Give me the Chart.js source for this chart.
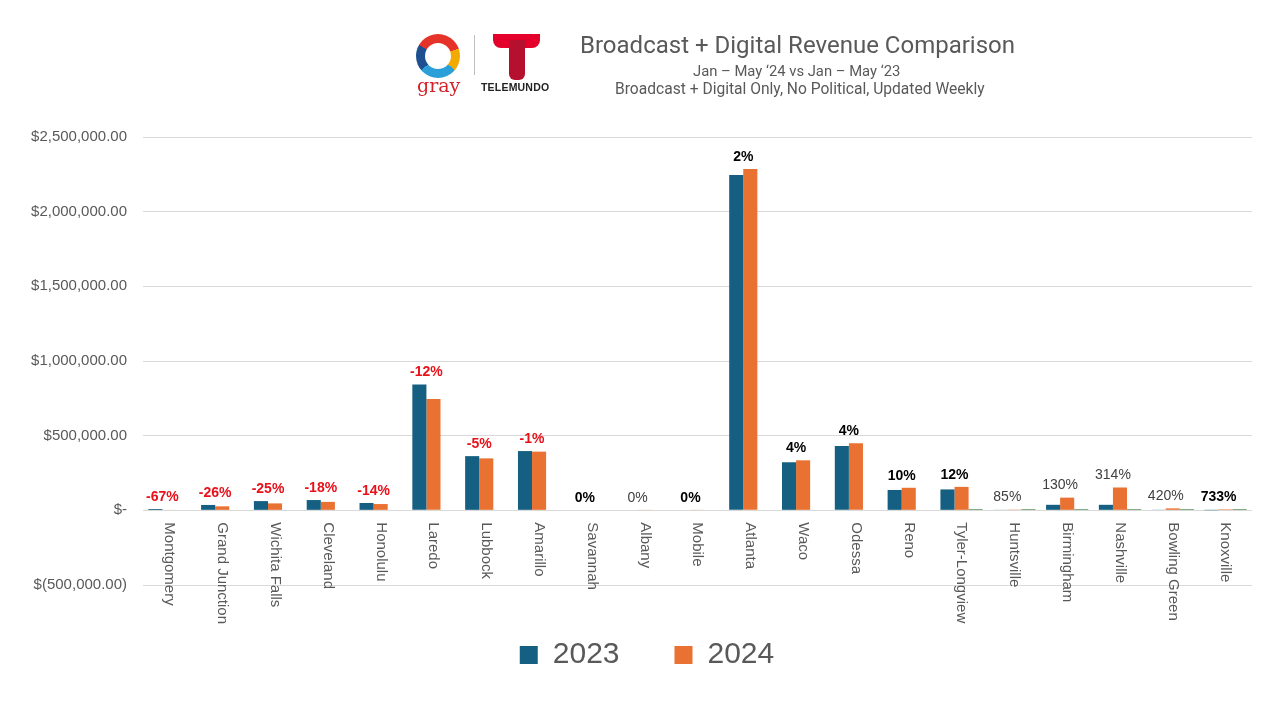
<!DOCTYPE html>
<html>
<head>
<meta charset="utf-8">
<script src="https://cdn.jsdelivr.net/npm/chart.js@4.4.1/dist/chart.umd.min.js"></script>
<style>
  html, body { margin: 0; padding: 0; background: #fff; }
  #wrap { position: relative; width: 1280px; height: 720px; overflow: hidden; }
  #chart { position: absolute; left: 0; top: 0; }
  .hdr { position: absolute; font-family: Roboto, "Liberation Sans", sans-serif; color: #595959; white-space: nowrap; }
  #title { left: 580px; top: 31px; font-size: 24px; }
  #sub1 { left: 693px; top: 62px; font-size: 14.8px; }
  #sub2 { left: 615px; top: 80px; font-size: 15.6px; }
  /* rough logos */
  #gring { position: absolute; left: 416px; top: 34px; width: 44px; height: 44px; border-radius: 50%;
    background: conic-gradient(#e63329 0 70deg, #f2a900 70deg 130deg, #2a9fd8 130deg 230deg, #1d4f91 230deg 300deg, #e63329 300deg 360deg); }
  #gring::after { content: ""; position: absolute; left: 9px; top: 9px; width: 26px; height: 26px; border-radius: 50%; background: #fff; }
  #gray { position: absolute; left: 417px; top: 74px; font-family: "DejaVu Serif", serif; font-size: 19px; color: #d2232a; }
  #div { position: absolute; left: 474px; top: 35px; width: 1px; height: 40px; background: #bfbfbf; }
  .tbar { position: absolute; background: #e4002b; }
  #tele { position: absolute; left: 481px; top: 81px; font-family: "Liberation Sans", Arial, sans-serif; font-weight: bold; font-size: 10.5px; color: #222; letter-spacing: 0.2px; }
</style>
</head>
<body>
<div id="wrap">
  <canvas id="chart" width="1280" height="720"></canvas>
  <div id="gring"></div>
  <div id="gray">gray</div>
  <div id="div"></div>
  <div class="tbar" style="left:493px;top:34px;width:47px;height:14px;border-radius:0 0 8px 8px;"></div>
  <div class="tbar" style="left:509px;top:40px;width:16px;height:40px;background:#b5102d;border-radius:0 0 6px 6px;"></div>
  <div id="tele">TELEMUNDO</div>
  <div id="title" class="hdr">Broadcast + Digital Revenue Comparison</div>
  <div id="sub1" class="hdr">Jan – May ‘24 vs Jan – May ‘23</div>
  <div id="sub2" class="hdr">Broadcast + Digital Only, No Political, Updated Weekly</div>
</div>
<script>
// markets, left to right
const markets = ["Montgomery", "Grand Junction", "Wichita Falls", "Cleveland", "Honolulu", "Laredo", "Lubbock",
  "Amarillo", "Savannah", "Albany", "Mobile", "Atlanta", "Waco", "Odessa", "Reno", "Tyler-Longview",
  "Huntsville", "Birmingham", "Nashville", "Bowling Green", "Knoxville"];

// revenue
const rev2023 = [9000, 36000, 62000, 69000, 49000, 843000, 363000, 397000, 0, 0, 0, 2245000,
  322000, 431000, 136000, 140000, 2700, 37000, 37000, 2500, 800];
const rev2024 = [3000, 26600, 46500, 56600, 42100, 745000, 348000, 393000, 0, 4000, 4000, 2285000,
  335000, 449000, 151000, 157000, 5000, 85000, 153000, 13000, 6700];
// thin green series (not in legend)
const revOther = [0, 0, 0, 0, 0, 0, 0, 0, 0, 0, 0, 0, 0, 0, 0, 7000, 7000, 7000, 7000, 7000, 7000];

const pctLabels = ["-67%", "-26%", "-25%", "-18%", "-14%", "-12%", "-5%", "-1%", "0%", "0%", "0%", "2%",
  "4%", "4%", "10%", "12%", "85%", "130%", "314%", "420%", "733%"];
// r = red, k = black, g = gray
const pctTone = ["r", "r", "r", "r", "r", "r", "r", "r", "k", "g", "k", "k", "k", "k", "k", "k",
  "g", "g", "g", "g", "k"];

const yTicks = [-500000, 0, 500000, 1000000, 1500000, 2000000, 2500000];

function money(v) {
  if (v === 0) return "$-";
  let s = Math.abs(v).toLocaleString("en-US", {minimumFractionDigits: 2, maximumFractionDigits: 2});
  return v < 0 ? "$(" + s + ")" : "$" + s;
}

const labelPlugin = {
  id: "labelPlugin",
  afterLayout(chart) {
    // legend sits a little right of centre in the original
    chart.legend.left += 21;
    chart.legend.right += 21;
  },
  afterDatasetsDraw(chart) {
    const ctx = chart.ctx;
    const y = chart.scales.y;
    const zero = y.getPixelForValue(0);
    const m0 = chart.getDatasetMeta(0).data;
    const m1 = chart.getDatasetMeta(1).data;
    ctx.save();
    // percent labels over each pair
    for (let i = 0; i < markets.length; i++) {
      let top = Math.min(m0[i].y, m1[i].y, zero);
      let cx = (m0[i].x + m1[i].x) / 2;
      let t = pctTone[i];
      ctx.fillStyle = t === "r" ? "#e8111a" : (t === "k" ? "#000000" : "#404040");
      ctx.font = (t === "g" ? "" : "bold ") + "14px 'Liberation Sans', Arial, sans-serif";
      ctx.textAlign = "center";
      ctx.textBaseline = "middle";
      ctx.fillText(pctLabels[i], cx, top - 12);
    }
    // category names, turned to read downwards, hung from the zero line
    ctx.fillStyle = "#595959";
    ctx.font = "15px 'Liberation Sans', Arial, sans-serif";
    ctx.textAlign = "left";
    ctx.textBaseline = "middle";
    const xs = chart.scales.x;
    for (let i = 0; i < markets.length; i++) {
      ctx.save();
      ctx.translate(xs.getPixelForTick(i), zero + 12);
      ctx.rotate(Math.PI / 2);
      ctx.fillText(markets[i], 0, 0);
      ctx.restore();
    }
    ctx.restore();
  }
};

let ctx = document.getElementById("chart").getContext("2d");
let myChart = new Chart(ctx, {
  type: "bar",
  data: {
    labels: markets,
    datasets: [
      {label: "2023", data: rev2023, backgroundColor: "#156082"},
      {label: "2024", data: rev2024, backgroundColor: "#E97132"},
      {label: "Other", data: revOther, backgroundColor: "#196B24"}
    ]
  },
  options: {
    responsive: false,
    animation: false,
    layout: {padding: {top: 137, left: 0, right: 28, bottom: 40}},
    datasets: {bar: {categoryPercentage: 0.8, barPercentage: 1.0}},
    scales: {
      x: {
        grid: {display: false},
        border: {display: false},
        ticks: {display: false},
        afterFit(scale) { scale.height = 0; }
      },
      y: {
        min: -500000,
        max: 2500000,
        afterBuildTicks(scale) { scale.ticks = yTicks.map(v => ({value: v})); },
        afterFit(scale) { scale.width = 143; },
        grid: {color: "#d9d9d9", drawTicks: false},
        border: {display: false},
        ticks: {
          padding: 16,
          color: "#595959",
          font: {family: "'Liberation Sans', Arial, sans-serif", size: 15},
          callback: (v) => money(v)
        }
      }
    },
    plugins: {
      legend: {
        position: "bottom",
        labels: {
          filter: (item) => item.datasetIndex < 2,
          boxWidth: 18,
          boxHeight: 18,
          padding: 55,
          color: "#595959",
          font: {family: "'Liberation Sans', Arial, sans-serif", size: 30}
        }
      },
      tooltip: {enabled: false}
    }
  },
  plugins: [labelPlugin]
});
</script>
</body>
</html>
